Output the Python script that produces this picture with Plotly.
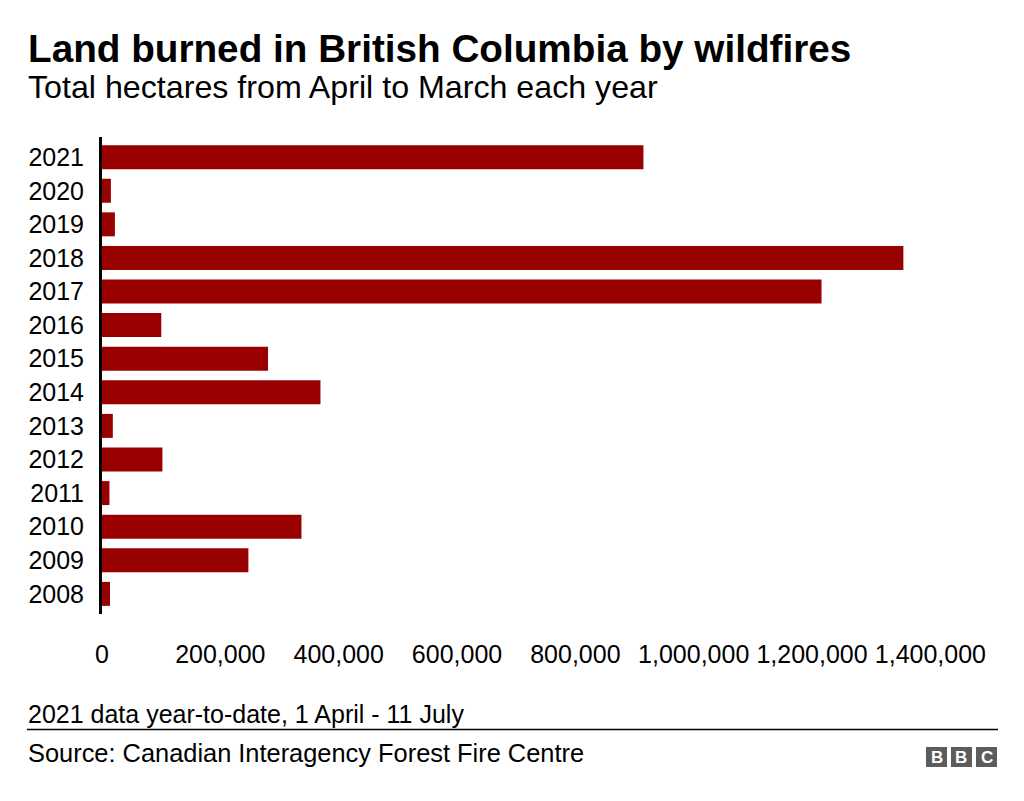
import plotly.graph_objects as go

years = ["2008", "2009", "2010", "2011", "2012", "2013", "2014", "2015",
         "2016", "2017", "2018", "2019", "2020", "2021"]
hectares = [13500, 247400, 337100, 12600, 102100, 18300, 369200, 280600,
            100200, 1216000, 1354300, 21800, 15000, 915000]
x_ticks = [0, 200000, 400000, 600000, 800000, 1000000, 1200000, 1400000]
x_tick_labels = ["0", "200,000", "400,000", "600,000", "800,000",
                 "1,000,000", "1,200,000", "1,400,000"]

title_text = "Land burned in British Columbia by wildfires"
subtitle_text = "Total hectares from April to March each year"
note_text = "2021 data year-to-date, 1 April - 11 July"
source_text = "Source: Canadian Interagency Forest Fire Centre"

FONT = "Liberation Sans, Arial, Helvetica, sans-serif"
BAR_COLOR = "#990000"

W, H = 1024, 801
L, R = 102, 64
T, B = 137, 187
PW = W - L - R
PH = H - T - B


def px(xp):
    return (xp - L) / PW


def py(yp):
    return (H - B - yp) / PH


fig = go.Figure(go.Bar(
    x=hectares, y=years, orientation="h",
    marker=dict(color=BAR_COLOR, line=dict(width=0)),
    hoverinfo="x+y",
))

annotations = [
    dict(text="<b>" + title_text + "</b>", x=px(26), y=py(48.5), xanchor="left",
         yanchor="middle", font=dict(size=38.7, color="#000000", family=FONT)),
    dict(text=subtitle_text, x=px(26), y=py(86.5), xanchor="left",
         yanchor="middle", font=dict(size=32.2, color="#000000", family=FONT)),
    dict(text=note_text, x=px(26), y=py(713.5), xanchor="left",
         yanchor="middle", font=dict(size=25, color="#000000", family=FONT)),
    dict(text=source_text, x=px(26), y=py(752.5), xanchor="left",
         yanchor="middle", font=dict(size=25.4, color="#000000", family=FONT)),
]

shapes = [
    dict(type="line", xref="paper", yref="paper", x0=px(27), x1=px(998),
         y0=py(729.5), y1=py(729.5), line=dict(color="#000000", width=1.5)),
]

for i, letter in enumerate(["B", "B", "C"]):
    x0 = 926 + i * 25
    x1 = x0 + 21
    shapes.append(dict(type="rect", xref="paper", yref="paper",
                       x0=px(x0), x1=px(x1), y0=py(767), y1=py(747),
                       fillcolor="#5c5c5c", line=dict(width=0)))
    annotations.append(dict(text="<b>" + letter + "</b>", x=px((x0 + x1) / 2),
                            y=py(757.5), xanchor="center", yanchor="middle",
                            font=dict(size=17, color="#ffffff", family=FONT)))

for a in annotations:
    a.update(xref="paper", yref="paper", showarrow=False)

fig.update_layout(
    width=W, height=H,
    margin=dict(l=L, r=R, t=T, b=B, pad=0),
    paper_bgcolor="#ffffff", plot_bgcolor="#ffffff",
    bargap=0.286,
    showlegend=False,
    font=dict(family=FONT, color="#000000"),
    annotations=annotations,
    shapes=shapes,
    xaxis=dict(range=[0, 1450000], tickvals=x_ticks, ticktext=x_tick_labels,
               showgrid=False, zeroline=False, showline=False, ticks="",
               tickfont=dict(size=25, color="#000000", family=FONT),
               ticklabelstandoff=23, fixedrange=True),
    yaxis=dict(type="category", categoryorder="array", categoryarray=years,
               range=[-0.6, 13.6], showgrid=False, zeroline=False,
               showline=True, linecolor="#000000", linewidth=3, ticks="",
               tickfont=dict(size=25, color="#000000", family=FONT),
               ticklabelstandoff=10, fixedrange=True),
)

fig.write_html("out.html", config={"displayModeBar": False},
               post_script="document.body.style.margin='0';")
